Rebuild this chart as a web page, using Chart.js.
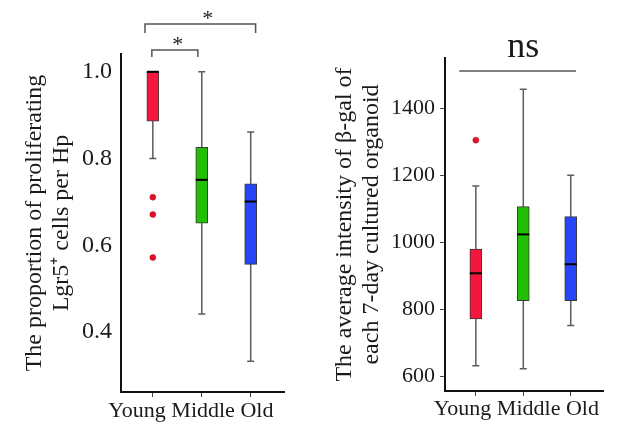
<!DOCTYPE html>
<html>
<head>
<meta charset="utf-8">
<script src="https://cdn.jsdelivr.net/npm/chart.js@4.4.0/dist/chart.umd.min.js"></script>
<style>
body{margin:0;background:#fff;}
#wrap{position:relative;width:619px;height:423px;}
canvas{position:absolute;top:0;}
</style>
</head>
<body>
<div id="wrap">
<canvas id="chartL" width="310" height="423" style="left:0"></canvas>
<canvas id="chartR" width="309" height="423" style="left:310px"></canvas>
</div>
<script>
const groups = ['Young', 'Middle', 'Old']
const boxColors = ['#f5163c', '#22bf06', '#2646f7']

// left panel - proportion of proliferating Lgr5+ cells
const propLow = [0.80, 0.442, 0.333]
const propQ1 = [0.886, 0.651, 0.556]
const propMedian = [1.0, 0.751, 0.701]
const propQ3 = [1.0, 0.826, 0.742]
const propHigh = [1.0, 1.0, 0.861]
const propOutliers = [[0.711, 0.671, 0.572], [], []]
const propTicks = [0.4, 0.6, 0.8, 1.0]

// right panel - beta-gal intensity
const galLow = [632, 623, 752]
const galQ1 = [772, 826, 826]
const galMedian = [908, 1024, 935]
const galQ3 = [980, 1107, 1077]
const galHigh = [1168, 1457, 1200]
const galOutliers = [[1305], [], []]
const galTicks = [600, 800, 1000, 1200, 1400]

const serif = 'Liberation Serif'
const ink = '#1a1a1a'

function bracket(ctx, x1, x2, y, drop){
    ctx.beginPath()
    ctx.moveTo(x1, y + drop)
    ctx.lineTo(x1, y)
    ctx.lineTo(x2, y)
    ctx.lineTo(x2, y + drop)
    ctx.stroke()
}

function leftMarks(chart){
    const ctx = chart.ctx, xs = chart.scales.x, top = chart.chartArea.top
    ctx.strokeStyle = '#555'
    ctx.lineWidth = 1.5
    bracket(ctx, xs.getPixelForValue(0.84), xs.getPixelForValue(3.1), top - 30, 9)
    bracket(ctx, xs.getPixelForValue(0.98), xs.getPixelForValue(1.92), top - 4, 7)
    ctx.fillStyle = ink
    ctx.font = '22px "' + serif + '"'
    ctx.textAlign = 'center'
    ctx.textBaseline = 'alphabetic'
    ctx.fillText('*', xs.getPixelForValue(2.12), top - 29)
    ctx.fillText('*', xs.getPixelForValue(1.51), top - 3)
}

function rightMarks(chart){
    const ctx = chart.ctx, xs = chart.scales.x, ys = chart.scales.y, top = chart.chartArea.top
    ctx.strokeStyle = '#555'
    ctx.lineWidth = 1.5
    ctx.beginPath()
    ctx.moveTo(xs.getPixelForValue(0.65), ys.getPixelForValue(1511))
    ctx.lineTo(xs.getPixelForValue(3.11), ys.getPixelForValue(1511))
    ctx.stroke()
    ctx.fillStyle = ink
    ctx.font = '36px "' + serif + '"'
    ctx.textAlign = 'center'
    ctx.textBaseline = 'alphabetic'
    ctx.fillText('ns', xs.getPixelForValue(2.0), top - 1)
}

function makebox(docID, st, opts){
    const ctx = document.getElementById(docID)
    const boxData = groups.map((g, i) => ({x: i + 1, y: [st.q1[i], st.q3[i]]}))
    const outData = []
    st.out.forEach((arr, i) => arr.forEach(v => outData.push({x: i + 1, y: v})))

    const boxPlugin = {
        id: 'boxExtras' + docID,
        beforeDatasetsDraw(chart){
            const c = chart.ctx, xs = chart.scales.x, ys = chart.scales.y
            c.save()
            c.strokeStyle = '#5c5c5c'
            c.lineWidth = 1.5
            st.low.forEach((lo, i) => {
                const x = xs.getPixelForValue(i + 1)
                const y1 = ys.getPixelForValue(lo), y2 = ys.getPixelForValue(st.high[i])
                c.beginPath()
                c.moveTo(x, y1); c.lineTo(x, y2)
                c.moveTo(x - 3.5, y1); c.lineTo(x + 3.5, y1)
                c.moveTo(x - 3.5, y2); c.lineTo(x + 3.5, y2)
                c.stroke()
            })
            c.restore()
        },
        afterDatasetsDraw(chart){
            const c = chart.ctx, xs = chart.scales.x, ys = chart.scales.y
            c.save()
            c.strokeStyle = '#000'
            c.lineWidth = 2
            st.median.forEach((m, i) => {
                const x = xs.getPixelForValue(i + 1), y = ys.getPixelForValue(m)
                c.beginPath()
                c.moveTo(x - 6, y); c.lineTo(x + 6, y)
                c.stroke()
            })
            c.restore()
        },
        afterDraw(chart){
            const c = chart.ctx, xs = chart.scales.x
            c.save()
            c.fillStyle = ink
            c.font = '22px "' + serif + '"'
            c.textAlign = 'center'
            c.textBaseline = 'alphabetic'
            c.fillText(groups.join(' '), xs.getPixelForValue(2) + opts.labelShift, opts.labelBase)
            opts.marks(chart)
            c.restore()
        }
    }

    return new Chart(ctx, {
        type: 'bar',
        data: {
            datasets: [{
                type: 'bar',
                data: boxData,
                backgroundColor: boxColors,
                borderColor: '#3a3a3a',
                borderWidth: 1,
                borderSkipped: false,
                barThickness: 12,
                order: 2
            }, {
                type: 'scatter',
                data: outData,
                pointRadius: 3,
                pointBackgroundColor: '#e3102c',
                pointBorderColor: '#b0101f',
                pointBorderWidth: 0.5,
                order: 1
            }]
        },
        options: {
            responsive: false,
            animation: false,
            layout: {padding: {left: 0, top: opts.top, right: opts.right, bottom: 0}},
            plugins: {legend: {display: false}, tooltip: {enabled: false}},
            scales: {
                x: {
                    type: 'linear',
                    min: 0.35,
                    max: 3.68,
                    offset: false,
                    afterBuildTicks: s => { s.ticks = groups.map((g, i) => ({value: i + 1})) },
                    afterFit: s => { s.height = opts.xHeight },
                    ticks: {display: false},
                    grid: {offset: false, drawOnChartArea: false, tickLength: 5, color: '#444'},
                    border: {color: '#111', width: 2}
                },
                y: {
                    min: opts.ymin,
                    max: opts.ymax,
                    beginAtZero: false,
                    afterBuildTicks: s => { s.ticks = st.ticks.map(v => ({value: v})) },
                    afterFit: s => { s.width = opts.yWidth },
                    ticks: {
                        callback: opts.fmt,
                        font: {family: serif, size: opts.tickSize},
                        color: ink,
                        padding: opts.tickPad
                    },
                    grid: {display: opts.yMarks, drawOnChartArea: false, drawTicks: opts.yMarks, tickLength: 5, color: '#444'},
                    border: {color: '#111', width: 2},
                    title: {
                        display: true,
                        text: opts.title,
                        font: {family: serif, size: 24, lineHeight: 1.125},
                        color: ink,
                        padding: {top: 21.5, bottom: 0}
                    }
                }
            }
        },
        plugins: [boxPlugin]
    })
}

makebox('chartL', {
    low: propLow, q1: propQ1, median: propMedian, q3: propQ3, high: propHigh,
    out: propOutliers, ticks: propTicks
}, {
    top: 54, right: 26, xHeight: 31, yWidth: 121,
    ymin: 0.262, ymax: 1.041, tickSize: 24, tickPad: 9, yMarks: false,
    fmt: v => v.toFixed(1),
    title: ['The proportion of proliferating', 'Lgr5\u207A cells per Hp'],
    labelShift: -11, labelBase: 417, marks: leftMarks
})

makebox('chartR', {
    low: galLow, q1: galQ1, median: galMedian, q3: galQ3, high: galHigh,
    out: galOutliers, ticks: galTicks
}, {
    top: 58, right: 16, xHeight: 32, yWidth: 135,
    ymin: 557, ymax: 1550, tickSize: 22, tickPad: 5, yMarks: true,
    fmt: v => v,
    title: ['The average intensity of \u03B2-gal of', 'each 7-day cultured organoid'],
    labelShift: -7, labelBase: 415, marks: rightMarks
})
</script>
</body>
</html>
